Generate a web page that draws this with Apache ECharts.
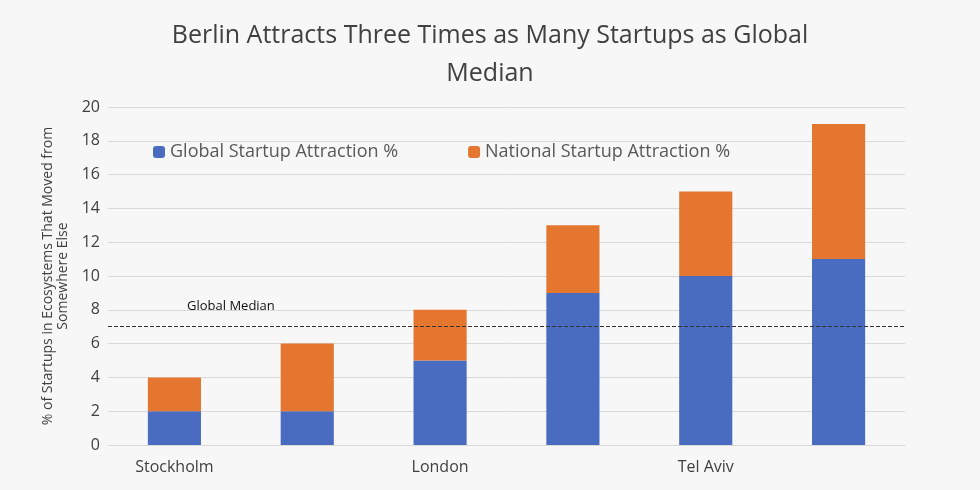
<!DOCTYPE html>
<html><head><meta charset="utf-8">
<script src="https://cdn.jsdelivr.net/npm/echarts@6/dist/echarts.min.js"></script>
<style>html,body{margin:0;background:#f7f7f7}#c{width:980px;height:490px}</style>
</head><body><div id="c"></div>
<script>
var cities = ['Stockholm', 'Paris', 'London', 'New York City', 'Tel Aviv', 'Berlin'];
var globalPct = [2, 2, 5, 9, 10, 11];
var nationalPct = [2, 4, 3, 4, 5, 8];
var globalMedian = 7;

var chart = echarts.init(document.getElementById('c'));
var font = '"Open Sans", sans-serif';
chart.setOption({
    backgroundColor: '#f7f7f7',
    textStyle: {fontFamily: font},
    title: {
        text: 'Berlin Attracts Three Times as Many Startups as Global\nMedian',
        left: 'center', top: 12,
        textStyle: {fontSize: 25, fontWeight: 'normal', color: '#404040', lineHeight: 38, fontFamily: font}
    },
    legend: {
        top: 138, left: 148, itemGap: 70, itemWidth: 12, itemHeight: 12,
        textStyle: {fontSize: 18, color: '#595959'},
        data: ['Global Startup Attraction %', 'National Startup Attraction %']
    },
    grid: {left: 108, right: 75, top: 107, bottom: 45},
    xAxis: {
        type: 'category', data: cities,
        axisLine: {lineStyle: {color: '#d9d9d9'}},
        axisTick: {show: false},
        axisLabel: {fontSize: 16, color: '#404040', margin: 14}
    },
    yAxis: {
        type: 'value', min: 0, max: 20, interval: 2,
        name: '% of Startups in Ecosystems That Moved from\nSomewhere Else',
        nameLocation: 'middle', nameGap: 34, nameRotate: 90,
        nameTextStyle: {fontSize: 14, color: '#404040', lineHeight: 15},
        axisLine: {show: false}, axisTick: {show: false},
        axisLabel: {fontSize: 16, color: '#404040'},
        splitLine: {lineStyle: {color: '#d9d9d9'}}
    },
    series: [{
        name: 'Global Startup Attraction %', type: 'bar', stack: 's',
        barWidth: '40%', itemStyle: {color: '#4a6cc0'}, data: globalPct,
        markLine: {
            silent: true, symbol: 'none',
            lineStyle: {color: '#333', type: 'dashed', width: 1},
            label: {show: false},
            data: [{yAxis: globalMedian}]
        }
    }, {
        name: 'National Startup Attraction %', type: 'bar', stack: 's',
        itemStyle: {color: '#e5762f'}, data: nationalPct
    }],
    graphic: [{
        type: 'text', left: 187, top: 300,
        style: {text: 'Global Median', fontSize: 13, fill: '#111', fontFamily: font}
    }]
});
</script></body></html>
